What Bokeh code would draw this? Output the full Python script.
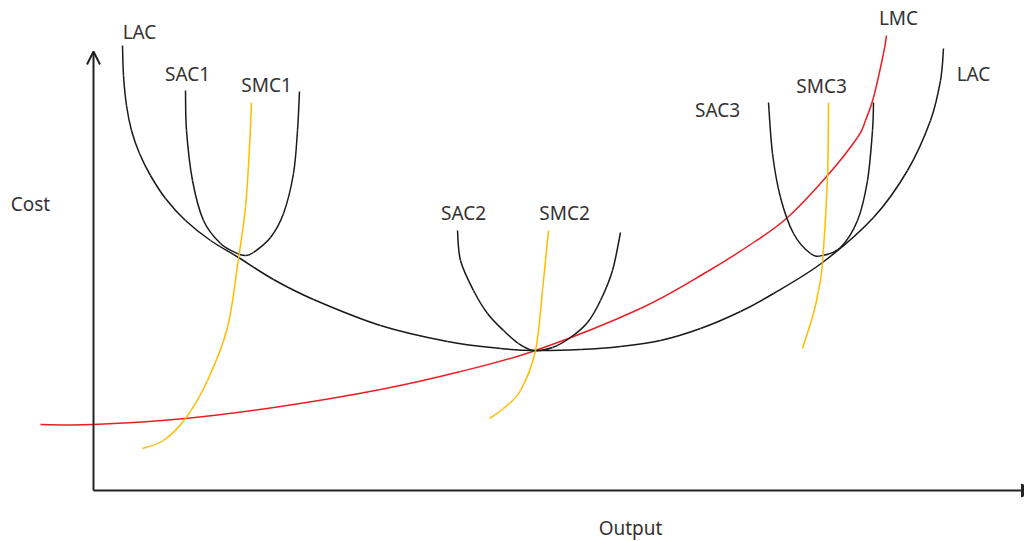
from bokeh.plotting import figure
from bokeh.models import Range1d, Arrow, OpenHead, NormalHead, ColumnDataSource
from bokeh.core.properties import value
from bokeh.embed import file_html
from bokeh.resources import INLINE

# ---- curve data (Output, Cost) ----
lac_output = [29, 30, 33, 38, 46, 57, 72, 92, 117, 145, 180, 220, 287, 354, 407, 442,
              487, 527, 567, 607, 647, 680, 729, 780, 814, 837, 847, 850]
lac_cost = [445, 415, 385, 360, 337, 315, 292, 270, 250, 233, 211, 191, 165, 149, 142, 140,
            141, 144, 150, 162, 179, 197, 228, 273, 320, 370, 410, 442]

sac1_output = [92, 93, 99, 110, 127, 144, 152, 160, 177, 190, 200, 204, 206]
sac1_cost = [400, 360, 310, 270, 247, 237, 235, 238, 253, 277, 317, 360, 399]

smc1_output = [158, 156, 152, 145, 134, 114, 92, 70, 49]
smc1_cost = [388, 343, 283, 232, 163, 110, 72, 50, 42]

sac2_output = [364, 367, 380, 394, 410, 425, 440, 459, 477, 494, 507, 519, 527]
sac2_cost = [260, 230, 200, 177, 160, 147, 140, 143, 153, 168, 190, 220, 258]

smc2_output = [455, 452, 449, 442, 427, 410, 396]
smc2_cost = [260, 230, 200, 140, 100, 82, 72]

sac3_output = [675, 679, 687, 700, 717, 729, 747, 764, 774, 779, 780]
sac3_cost = [388, 337, 293, 257, 237, 235, 243, 270, 310, 360, 388]

smc3_output = [735, 734, 729, 725, 720, 709]
smc3_cost = [388, 313, 228, 200, 177, 142]

lmc_output = [-53, 0, 92, 187, 287, 367, 442, 547, 614, 660, 694, 734, 764, 772, 780, 790, 793]
lmc_cost = [66, 66, 72, 84, 101, 119, 140, 182, 219, 248, 273, 315, 353, 370, 393, 437, 455]

# ---- labels ----
label_text = ["LAC", "SAC1", "SMC1", "SAC2", "SMC2", "SAC3", "SMC3", "LMC", "LAC", "Cost", "Output"]
label_x = [46, 94, 173, 370, 471, 624, 728, 805, 880, -63, 537]
label_y = [459, 417, 406, 278, 278, 381, 405, 473, 417, 287, -37]

BLACK = "#1a1a1a"
GOLD = "#FFBC00"
RED = "#EE1D23"


def smooth_segments(xs, ys):
    """Cubic Bezier segments passing through the read points (Catmull-Rom)."""
    n = len(xs)
    d = dict(x0=[], y0=[], x1=[], y1=[], cx0=[], cy0=[], cx1=[], cy1=[])
    for i in range(n - 1):
        a = max(i - 1, 0)
        b = min(i + 2, n - 1)
        d["x0"].append(xs[i]); d["y0"].append(ys[i])
        d["x1"].append(xs[i + 1]); d["y1"].append(ys[i + 1])
        d["cx0"].append(xs[i] + (xs[i + 1] - xs[a]) / 6.0)
        d["cy0"].append(ys[i] + (ys[i + 1] - ys[a]) / 6.0)
        d["cx1"].append(xs[i + 1] - (xs[b] - xs[i]) / 6.0)
        d["cy1"].append(ys[i + 1] - (ys[b] - ys[i]) / 6.0)
    return ColumnDataSource(d)


p = figure(width=1024, height=541, output_backend="svg", toolbar_location=None,
           x_range=Range1d(-93, 931), y_range=Range1d(-51, 490),
           x_axis_type=None, y_axis_type=None, min_border=0,
           background_fill_color="white", border_fill_color="white")
p.grid.visible = False
p.outline_line_color = None

# axes with arrows
AX = "#222222"
p.add_layout(Arrow(end=OpenHead(size=13, line_color=AX, line_width=2),
                   x_start=0, y_start=0, x_end=0, y_end=439,
                   line_color=AX, line_width=2))
p.add_layout(Arrow(end=NormalHead(size=13, fill_color=AX, line_color=AX),
                   x_start=0, y_start=0, x_end=941, y_end=0,
                   line_color=AX, line_width=2))

curves = [
    (lmc_output, lmc_cost, RED),
    (lac_output, lac_cost, BLACK),
    (sac1_output, sac1_cost, BLACK),
    (sac2_output, sac2_cost, BLACK),
    (sac3_output, sac3_cost, BLACK),
    (smc1_output, smc1_cost, GOLD),
    (smc2_output, smc2_cost, GOLD),
    (smc3_output, smc3_cost, GOLD),
]
for xs, ys, col in curves:
    p.bezier(x0="x0", y0="y0", x1="x1", y1="y1", cx0="cx0", cy0="cy0",
             cx1="cx1", cy1="cy1", source=smooth_segments(xs, ys),
             line_color=col, line_width=1.5)

src = ColumnDataSource(dict(x=label_x, y=label_y, t=label_text))
p.text(x="x", y="y", text="t", source=src, text_font=value("Noto Sans"),
       text_font_size="19px", text_align="center", text_baseline="middle",
       text_color="#333333")

open("out.html", "w").write(file_html(p, INLINE))
